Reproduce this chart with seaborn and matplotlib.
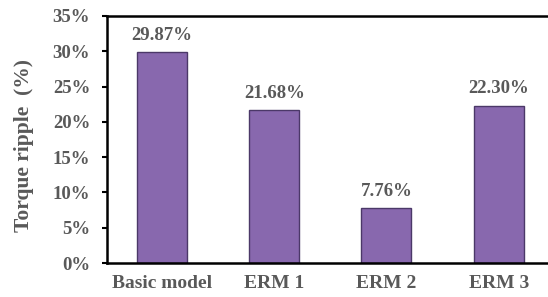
import matplotlib
matplotlib.use("Agg")
import matplotlib.pyplot as plt
import seaborn as sns
import pandas as pd
from matplotlib.ticker import FuncFormatter

categories = ["Basic model", "ERM 1", "ERM 2", "ERM 3"]
values = [29.87, 21.68, 7.76, 22.30]
labels = ["29.87%", "21.68%", "7.76%", "22.30%"]
yticks = [0, 5, 10, 15, 20, 25, 30, 35]

df = pd.DataFrame({"model": categories, "ripple": values})

sns.set_theme(style="white")
plt.rcParams["font.family"] = ["Liberation Serif", "DejaVu Serif"]

fig = plt.figure(figsize=(5.48, 2.97), dpi=100)
W, H = 548, 297
ax = fig.add_axes([107 / W, (H - 263) / H, (548 - 107) / W, (263 - 16) / H])

sns.barplot(data=df, x="model", y="ripple", ax=ax, color="#8868AE",
            width=0.445, edgecolor="#4B3868", linewidth=1.0, saturation=1)

gray = "#595959"
for i, (v, t) in enumerate(zip(values, labels)):
    ax.text(i, v + 1.2, t, ha="center", va="bottom", fontsize=13.5,
            fontweight="bold", color=gray)

ax.set_ylim(0, 35)
ax.set_xlim(-0.49, 3.44)
ax.set_yticks(yticks)
ax.yaxis.set_major_formatter(FuncFormatter(lambda v, p: f"{int(v)}%"))
ax.set_xlabel("")
ax.set_ylabel("Torque ripple  (%)", fontsize=15.5, fontweight="bold", color=gray)
ax.yaxis.set_label_coords(-0.165, 0.475)

for lab in ax.get_yticklabels():
    lab.set_fontweight("bold")
for lab in ax.get_xticklabels():
    lab.set_fontweight("bold")
ax.tick_params(axis="y", which="major", left=True, direction="out", length=3.6, width=1.5,
               color="black", labelsize=13.5, labelcolor=gray, pad=8.5)
ax.tick_params(axis="x", bottom=False, length=0, labelsize=14, labelcolor=gray, pad=9)

for s in ["left", "bottom", "top"]:
    ax.spines[s].set_visible(True)
    ax.spines[s].set_color("black")
    ax.spines[s].set_linewidth(1.8)
ax.spines["right"].set_visible(False)

fig.savefig("out.png", dpi=100)
